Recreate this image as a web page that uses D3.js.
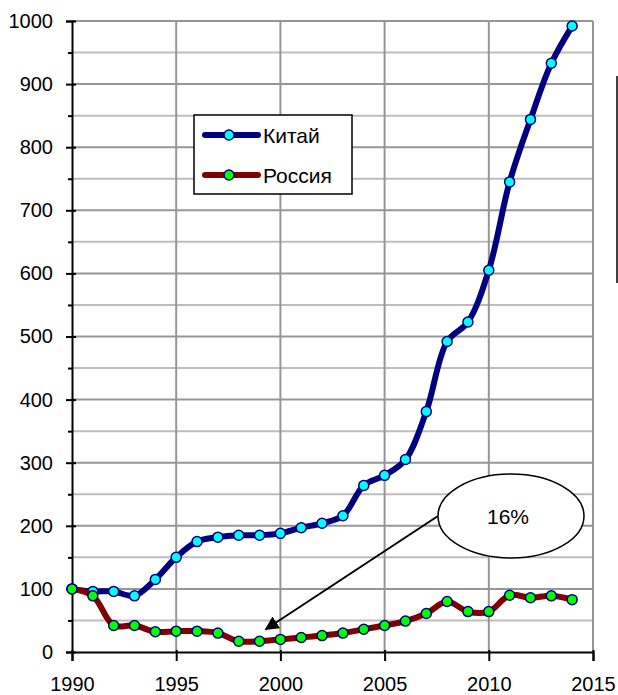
<html>
    <head>
        <script src='https://d3js.org/d3.v7.min.js'></script>
        <style> body {margin: 0; background: white} </style>
    </head>
    <body onload='init()'>
        <svg width=618 height=695></svg>
        <script>
            var years = [1990, 1991, 1992, 1993, 1994, 1995, 1996, 1997, 1998, 1999, 2000, 2001, 2002,
                         2003, 2004, 2005, 2006, 2007, 2008, 2009, 2010, 2011, 2012, 2013, 2014];
            var china = [100, 96, 96, 89, 115, 150, 175, 182, 185, 185, 188, 197, 204,
                         216, 264, 280, 305, 381, 492, 523, 605, 745, 844, 933, 992];
            var russia = [100, 89, 42, 42, 32, 33, 33, 30, 17, 17, 20, 23, 26,
                          30, 36, 42, 49, 61, 80, 64, 64, 90, 86, 89, 83];
            var seriesNames = ['Китай', 'Россия'];
            var xTicks = [1990, 1995, 2000, 2005, 2010, 2015];
            var yTicks = [0, 100, 200, 300, 400, 500, 600, 700, 800, 900, 1000];
            var yMinorTicks = [50, 150, 250, 350, 450, 550, 650, 750, 850, 950];
            var calloutText = '16%';

            var plotLeft = 72, plotRight = 593, plotTop = 21, plotBottom = 652;
            var font = "'Liberation Sans', Arial, sans-serif";

            function init() {
                var svg = d3.select('svg');
                var x = d3.scaleLinear().domain([1990, 2015]).range([plotLeft, plotRight]);
                var y = d3.scaleLinear().domain([0, 1000]).range([plotBottom, plotTop]);

                /**
                 * Grid lines
                 */
                svg.append('g').selectAll('line')
                  .data(yMinorTicks)
                  .enter()
                  .append('line')
                  .attr('x1', plotLeft).attr('x2', plotRight)
                  .attr('y1', function (d) { return y(d); })
                  .attr('y2', function (d) { return y(d); })
                  .style('stroke', '#bdbdbd')
                  .style('stroke-width', 2);

                svg.append('g').selectAll('line')
                  .data(yTicks.slice(1))
                  .enter()
                  .append('line')
                  .attr('x1', plotLeft).attr('x2', plotRight)
                  .attr('y1', function (d) { return y(d); })
                  .attr('y2', function (d) { return y(d); })
                  .style('stroke', '#969696')
                  .style('stroke-width', 2);

                svg.append('g').selectAll('line')
                  .data(xTicks.slice(1))
                  .enter()
                  .append('line')
                  .attr('x1', function (d) { return x(d); })
                  .attr('x2', function (d) { return x(d); })
                  .attr('y1', plotTop).attr('y2', plotBottom)
                  .style('stroke', '#969696')
                  .style('stroke-width', 2);

                /**
                 * Axes
                 */
                var yAxis = svg.append('g')
                  .attr('transform', 'translate(' + plotLeft + ',0)')
                  .call(d3.axisLeft(y).tickValues(yTicks).tickSize(6).tickPadding(13).tickFormat(d3.format('d')));
                var xAxis = svg.append('g')
                  .attr('transform', 'translate(0,' + plotBottom + ')')
                  .call(d3.axisBottom(x).tickValues(xTicks).tickSize(9).tickPadding(16).tickFormat(d3.format('d')));
                svg.append('g')
                  .attr('transform', 'translate(' + plotLeft + ',0)')
                  .call(d3.axisLeft(y).tickValues(yMinorTicks).tickSize(4).tickFormat(''))
                  .call(function (g) { g.select('.domain').remove(); })
                  .selectAll('line').style('stroke', 'black').style('stroke-width', 2);

                [xAxis, yAxis].forEach(function (a) {
                    a.selectAll('.domain').style('stroke', 'black').style('stroke-width', 2);
                    a.selectAll('.tick line').style('stroke', 'black').style('stroke-width', 2);
                    a.selectAll('text')
                      .style('font-family', font)
                      .style('font-size', '20px')
                      .style('fill', 'black');
                });
                yAxis.selectAll('.tick line').attr('x2', -6).attr('x1', 4);
                xAxis.selectAll('.tick line').attr('y1', -2);

                /**
                 * Series
                 */
                var line = d3.line()
                  .x(function (d) { return x(d[0]); })
                  .y(function (d) { return y(d[1]); })
                  .curve(d3.curveCatmullRom.alpha(0.5));

                var series = [
                    { data: years.map(function (v, i) { return [v, china[i]]; }), color: '#000080', fill: '#00ffff' },
                    { data: years.map(function (v, i) { return [v, russia[i]]; }), color: '#800000', fill: '#00ff00' }
                ];

                series.forEach(function (s) {
                    svg.append('path')
                      .datum(s.data)
                      .attr('d', line)
                      .style('fill', 'none')
                      .style('stroke', s.color)
                      .style('stroke-width', 6)
                      .style('stroke-linejoin', 'round')
                      .style('stroke-linecap', 'round');

                    svg.append('g').selectAll('circle')
                      .data(s.data)
                      .enter()
                      .append('circle')
                      .attr('cx', function (d) { return x(d[0]); })
                      .attr('cy', function (d) { return y(d[1]); })
                      .attr('r', 5)
                      .style('fill', s.fill)
                      .style('stroke', '#000080')
                      .style('stroke-width', 1.5);
                });

                /**
                 * Legend
                 */
                var legend = svg.append('g').attr('transform', 'translate(194,115)');
                legend.append('rect')
                  .attr('width', 158).attr('height', 79)
                  .style('fill', 'white')
                  .style('stroke', 'black')
                  .style('stroke-width', 1.5);
                var rows = legend.selectAll('g.row')
                  .data(seriesNames)
                  .enter()
                  .append('g')
                  .attr('transform', function (d, i) { return 'translate(0,' + (20 + i * 40) + ')'; });
                rows.append('line')
                  .attr('x1', 11).attr('x2', 64)
                  .style('stroke', function (d, i) { return series[i].color; })
                  .style('stroke-width', 6)
                  .style('stroke-linecap', 'round');
                rows.append('circle')
                  .attr('cx', 35).attr('r', 5)
                  .style('fill', function (d, i) { return series[i].fill; })
                  .style('stroke', '#000080')
                  .style('stroke-width', 1.5);
                rows.append('text')
                  .attr('x', 69)
                  .attr('dy', '0.36em')
                  .style('font-family', font)
                  .style('font-size', '21px')
                  .style('fill', 'black')
                  .text(function (d) { return d; });

                /**
                 * Callout with arrow
                 */
                svg.append('defs').append('marker')
                  .attr('id', 'head')
                  .attr('viewBox', '0 0 10 10')
                  .attr('refX', 9).attr('refY', 5)
                  .attr('markerWidth', 7).attr('markerHeight', 7)
                  .attr('orient', 'auto-start-reverse')
                  .append('path')
                  .attr('d', 'M0,0 L10,5 L0,10 Z')
                  .style('fill', 'black');

                svg.append('line')
                  .attr('x1', 438).attr('y1', 516)
                  .attr('x2', x(1999.3)).attr('y2', y(36))
                  .style('stroke', 'black')
                  .style('stroke-width', 2)
                  .attr('marker-end', 'url(#head)');

                svg.append('ellipse')
                  .attr('cx', 511).attr('cy', 516)
                  .attr('rx', 73).attr('ry', 42)
                  .style('fill', 'white')
                  .style('stroke', 'black')
                  .style('stroke-width', 1.5);
                svg.append('text')
                  .attr('x', 508).attr('y', 516)
                  .attr('dy', '0.36em')
                  .attr('text-anchor', 'middle')
                  .style('font-family', font)
                  .style('font-size', '21px')
                  .style('fill', 'black')
                  .text(calloutText);

                // clipped frame edge on the right
                svg.append('line')
                  .attr('x1', 617).attr('x2', 617)
                  .attr('y1', 76).attr('y2', 283)
                  .style('stroke', 'black')
                  .style('stroke-width', 1.5);
            }
        </script>
    </body>
</html>
